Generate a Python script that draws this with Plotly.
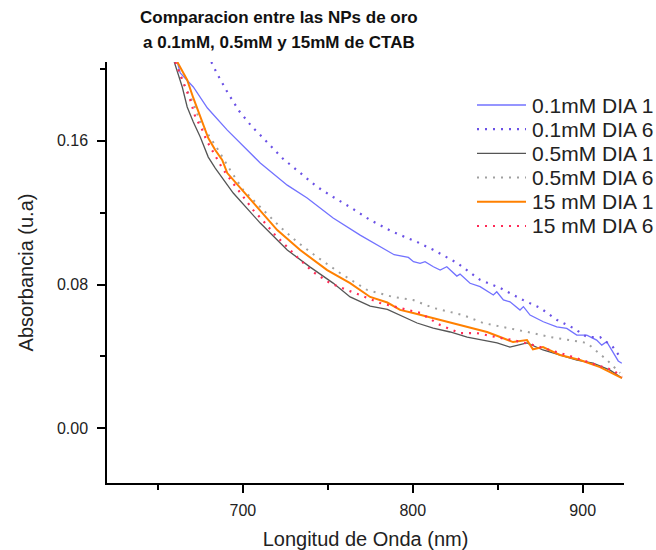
import plotly.graph_objects as go

# ---------------- data ----------------
x_01_d1 = [661.4, 663.1, 670.8, 679.1, 690.8, 710.2, 726.1, 737.8, 753.1, 769.0, 789.0, 797.4, 800.4,
           804.3, 807.2, 812.1, 816.1, 820.0, 825.9, 827.8, 833.7, 839.6, 847.4, 849.4, 853.3, 857.2,
           863.1, 865.1, 869.0, 876.8, 884.7, 890.6, 896.5, 902.4, 908.2, 911.2, 914.1, 918.0, 920.9, 923.0]
a_01_d1 = [0.2038, 0.1977, 0.1899, 0.1782, 0.1659, 0.1476, 0.1353, 0.1281, 0.1170, 0.1075, 0.0966, 0.0951, 0.0927,
           0.0918, 0.0927, 0.0899, 0.0881, 0.0899, 0.0847, 0.0858, 0.0807, 0.0788, 0.0742, 0.0760, 0.0714, 0.0704,
           0.0658, 0.0677, 0.0630, 0.0593, 0.0565, 0.0556, 0.0519, 0.0519, 0.0491, 0.0463, 0.0482, 0.0417, 0.0375, 0.0362]

x_01_d6 = [681.4, 684.9, 690.8, 697.8, 705.5, 710.2, 723.1, 733.7, 743.7, 753.1, 763.1, 774.9, 788.4,
           802.5, 812.0, 826.1, 839.6, 851.4, 864.9, 874.9, 884.9, 894.3, 902.5, 910.2, 917.8, 922.0]
a_01_d6 = [0.2038, 0.1971, 0.1871, 0.1765, 0.1676, 0.1632, 0.1504, 0.1420, 0.1343, 0.1287, 0.1231, 0.1159, 0.1092,
           0.1037, 0.0993, 0.0920, 0.0826, 0.0781, 0.0714, 0.0670, 0.0603, 0.0559, 0.0508, 0.0508, 0.0452, 0.0397]

x_05_d1 = [659.6, 664.3, 667.2, 670.8, 674.9, 679.6, 683.7, 694.3, 710.2, 726.1, 739.6, 753.1, 763.1, 774.9,
           785.0, 792.5, 802.5, 812.0, 822.0, 832.0, 841.4, 849.6, 857.2, 867.2, 876.6, 886.6, 896.6, 906.1, 916.1, 923.1]
a_05_d1 = [0.2038, 0.1899, 0.1788, 0.1704, 0.1621, 0.1509, 0.1448, 0.1309, 0.1142, 0.0992, 0.0897, 0.0808, 0.0731, 0.0680,
           0.0662, 0.0630, 0.0586, 0.0558, 0.0536, 0.0508, 0.0491, 0.0475, 0.0452, 0.0475, 0.0436, 0.0408, 0.0380, 0.0363, 0.0324, 0.0280]

x_05_d6 = [660.2, 664.9, 670.8, 674.9, 679.0, 685.5, 692.5, 700.2, 710.2, 722.0, 731.9, 743.7, 757.2, 773.1,
           788.4, 800.2, 812.0, 829.6, 841.4, 857.2, 870.7, 880.8, 890.8, 902.5, 914.3, 922.0]
a_05_d6 = [0.2038, 0.1921, 0.1810, 0.1704, 0.1643, 0.1548, 0.1437, 0.1326, 0.1231, 0.1120, 0.1037, 0.0953, 0.0864, 0.0770,
           0.0731, 0.0714, 0.0670, 0.0630, 0.0586, 0.0558, 0.0530, 0.0508, 0.0491, 0.0475, 0.0380, 0.0308]

x_15_d1 = [661.4, 667.2, 670.8, 674.9, 679.6, 683.7, 687.8, 690.8, 706.1, 720.2, 733.7, 749.6, 763.1, 774.9,
           785.0, 792.5, 800.2, 812.0, 822.0, 832.0, 843.7, 851.4, 859.0, 867.2, 870.7, 876.6, 886.6, 898.4, 910.2, 923.1]
a_15_d1 = [0.2038, 0.1938, 0.1838, 0.1732, 0.1615, 0.1548, 0.1493, 0.1420, 0.1253, 0.1103, 0.0992, 0.0880, 0.0808, 0.0731,
           0.0700, 0.0659, 0.0642, 0.0614, 0.0586, 0.0564, 0.0536, 0.0508, 0.0480, 0.0491, 0.0440, 0.0452, 0.0408, 0.0380, 0.0341, 0.0280]

x_15_d6 = [660.2, 664.9, 669.0, 672.0, 676.1, 678.5, 682.0, 687.8, 693.7, 699.6, 706.1, 713.1, 719.0, 724.9,
           731.9, 741.3, 751.3, 761.3, 780.8, 804.3, 816.1, 827.8, 837.8, 851.4, 859.0, 870.7, 884.9, 894.3,
           908.4, 917.8, 923.1]
a_15_d6 = [0.2038, 0.1921, 0.1827, 0.1732, 0.1660, 0.1604, 0.1548, 0.1448, 0.1370, 0.1298, 0.1214, 0.1142, 0.1075, 0.1020,
           0.0953, 0.0870, 0.0808, 0.0770, 0.0697, 0.0642, 0.0575, 0.0530, 0.0530, 0.0503, 0.0491, 0.0464, 0.0425, 0.0397,
           0.0352, 0.0324, 0.0286]

series_names = ["0.1mM DIA 1", "0.1mM DIA 6", "0.5mM DIA 1", "0.5mM DIA 6", "15 mM DIA 1", "15 mM DIA 6"]
series_x = [x_01_d1, x_01_d6, x_05_d1, x_05_d6, x_15_d1, x_15_d6]
series_y = [a_01_d1, a_01_d6, a_05_d1, a_05_d6, a_15_d1, a_15_d6]
series_colors = ["#7272ff", "#6a50e6", "#555555", "#a0a0a0", "#ff8000", "#ff2a55"]
series_widths = [1.3, 2.2, 1.3, 2.0, 2.0, 2.2]
series_dash = ["solid", "2px,6px", "solid", "2px,6px", "solid", "2px,6px"]

x_ticks = [700, 800, 900]
y_ticks = [0.00, 0.08, 0.16]
title_lines = ["Comparacion entre las NPs de oro", "a 0.1mM, 0.5mM y 15mM de CTAB"]

# ---------------- layout geometry ----------------
W, H = 656, 550
L, R, T, B = 107, 32, 62, 67
PW, PH = W - L - R, H - T - B

def px(xp):
    return (xp - L) / PW

def py(yp):
    return (H - B - yp) / PH

FONT = "Arial, Liberation Sans, sans-serif"

fig = go.Figure()
for xs, ys, c, w, d, n in zip(series_x, series_y, series_colors, series_widths, series_dash, series_names):
    fig.add_trace(go.Scatter(x=xs, y=ys, mode="lines", name=n, showlegend=False,
                             line=dict(color=c, width=w, dash=d)))

# manual legend
shapes = []
annotations = []
leg_rows = [105, 129.2, 153.4, 177.6, 201.8, 226]
for yrow, c, w, d, n in zip(leg_rows, series_colors, series_widths, series_dash, series_names):
    shapes.append(dict(type="line", xref="paper", yref="paper", x0=px(477), x1=px(526),
                       y0=py(yrow), y1=py(yrow), line=dict(color=c, width=w, dash=d)))
    annotations.append(dict(xref="paper", yref="paper", x=px(530), y=py(yrow), text=n,
                            showarrow=False, xanchor="left", yanchor="middle",
                            font=dict(family=FONT, size=21, color="#222222")))

for i, (t, yl) in enumerate(zip(title_lines, [17, 42])):
    annotations.append(dict(xref="paper", yref="paper", x=px(279), y=py(yl), text="<b>%s</b>" % t,
                            showarrow=False, xanchor="center", yanchor="middle",
                            font=dict(family=FONT, size=17, color="#111111")))

fig.update_layout(
    width=W, height=H,
    margin=dict(l=L, r=R, t=T, b=B, autoexpand=False),
    paper_bgcolor="white", plot_bgcolor="white",
    font=dict(family=FONT, size=16, color="#222222"),
    shapes=shapes, annotations=annotations,
    showlegend=False,
)
fig.update_xaxes(
    range=[620, 924.3], showgrid=False, zeroline=False,
    showline=True, linecolor="black", linewidth=1.5,
    ticks="outside", ticklen=8, tickwidth=1.5, tickcolor="black",
    tickvals=x_ticks, ticktext=[str(v) for v in x_ticks],
    tickfont=dict(size=16), ticklabelstandoff=4,
    minor=dict(ticks="outside", ticklen=5, tickwidth=1.5, tickcolor="black", dtick=50, tick0=650),
    title=dict(text="Longitud de Onda (nm)", font=dict(size=20), standoff=14),
)
fig.update_yaxes(
    range=[-0.0304, 0.2038], showgrid=False, zeroline=False,
    showline=True, linecolor="black", linewidth=1.5,
    ticks="outside", ticklen=8, tickwidth=1.5, tickcolor="black",
    tickvals=y_ticks, ticktext=["%.2f" % v for v in y_ticks],
    tickfont=dict(size=16), ticklabelstandoff=6,
    minor=dict(ticks="outside", ticklen=5, tickwidth=1.5, tickcolor="black", dtick=0.04, tick0=0),
    title=dict(text="Absorbancia (u.a)", font=dict(size=20), standoff=18),
)

fig.write_html("out.html")
